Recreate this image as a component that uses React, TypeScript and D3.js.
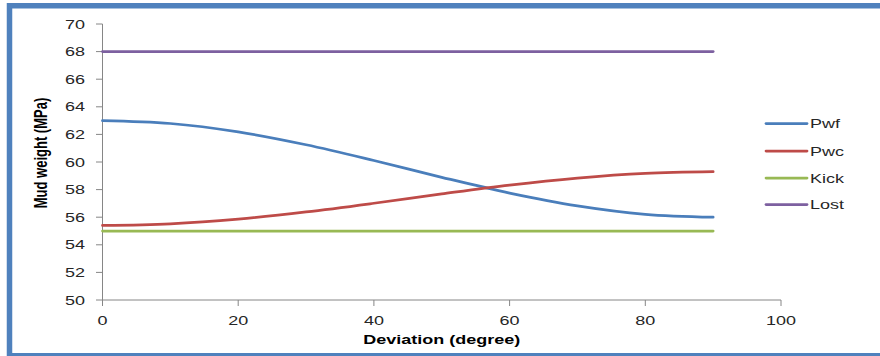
import React from "react";
import * as d3 from "d3";

const deviation = [0, 10, 20, 30, 40, 50, 60, 70, 80, 90];
const pwf = [63.0, 62.79, 62.18, 61.25, 60.11, 58.89, 57.75, 56.82, 56.21, 56.0];
const pwc = [55.4, 55.52, 55.86, 56.38, 57.01, 57.69, 58.33, 58.84, 59.18, 59.3];
const kick = [55, 55, 55, 55, 55, 55, 55, 55, 55, 55];
const lost = [68, 68, 68, 68, 68, 68, 68, 68, 68, 68];
const seriesNames = ["Pwf", "Pwc", "Kick", "Lost"];
const seriesColors = ["#4A7EBB", "#BE4B48", "#98B954", "#7D60A0"];
const yTicks = [50, 52, 54, 56, 58, 60, 62, 64, 66, 68, 70];
const xTicks = [0, 20, 40, 60, 80, 100];

const FONT = "'Liberation Sans', Arial, sans-serif";
const SX = 1.5;

export default function App() {
  const x = d3.scaleLinear().domain([0, 100]).range([102.5, 781]);
  const y = d3.scaleLinear().domain([50, 70]).range([300, 24]);
  const allSeries = [pwf, pwc, kick, lost];
  const line = d3
    .line<[number, number]>()
    .x((d) => x(d[0]))
    .y((d) => y(d[1]))
    .curve(d3.curveCatmullRom.alpha(0.5));
  const axisColor = "#868686";
  const legendYs = [123.5, 151, 178, 204.5];

  return (
    <svg
      width={880}
      height={356}
      style={{ position: "absolute", left: 0, top: 0, display: "block" }}
    >
      <rect x={0} y={0} width={880} height={356} fill="#ffffff" />
      <rect
        x={9.5}
        y={5.75}
        width={1000}
        height={350}
        fill="#ffffff"
        stroke="#4F81BD"
        strokeWidth={5.5}
      />
      {/* axes */}
      <line x1={x(0)} x2={x(0)} y1={y(70)} y2={y(50)} stroke={axisColor} strokeWidth={1} />
      <line x1={x(0)} x2={x(100)} y1={y(50)} y2={y(50)} stroke={axisColor} strokeWidth={1} />
      {yTicks.map((t) => (
        <g key={"yt" + t}>
          <line x1={x(0) - 6.5} x2={x(0)} y1={y(t)} y2={y(t)} stroke={axisColor} strokeWidth={1} />
          <text
            transform={`translate(85,${y(t) + 4.5}) scale(${SX},1)`}
            textAnchor="end"
            fontFamily={FONT}
            fontSize={12}
            fill="#262626"
          >
            {t}
          </text>
        </g>
      ))}
      {xTicks.map((t) => (
        <g key={"xt" + t}>
          <line x1={x(t)} x2={x(t)} y1={y(50)} y2={y(50) + 6} stroke={axisColor} strokeWidth={1} />
          <text
            transform={`translate(${x(t)},324.5) scale(${SX},1)`}
            textAnchor="middle"
            fontFamily={FONT}
            fontSize={12}
            fill="#262626"
          >
            {t}
          </text>
        </g>
      ))}
      {/* axis titles */}
      <text
        transform={`translate(${(x(0) + x(100)) / 2},344) scale(${SX},1)`}
        textAnchor="middle"
        fontFamily={FONT}
        fontSize={12}
        fontWeight="bold"
        fill="#000"
      >
        Deviation (degree)
      </text>
      <text
        transform={`translate(47,153) rotate(-90) scale(1,1.45)`}
        textAnchor="middle"
        fontFamily={FONT}
        fontSize={13}
        fontWeight="bold"
        fill="#000"
      >
        Mud weight (MPa)
      </text>
      {/* series */}
      {allSeries.map((vals, i) => (
        <path
          key={"s" + i}
          d={line(deviation.map((d, j) => [d, vals[j]] as [number, number])) || ""}
          fill="none"
          stroke={seriesColors[i]}
          strokeWidth={2.75}
          strokeLinecap="round"
        />
      ))}
      {/* legend */}
      {seriesNames.map((n, i) => (
        <g key={"lg" + i}>
          <line
            x1={766}
            x2={807}
            y1={legendYs[i]}
            y2={legendYs[i]}
            stroke={seriesColors[i]}
            strokeWidth={2.75}
            strokeLinecap="round"
          />
          <text
            transform={`translate(810,${legendYs[i] + 4.5}) scale(${SX},1)`}
            fontFamily={FONT}
            fontSize={12}
            fill="#262626"
          >
            {n}
          </text>
        </g>
      ))}
    </svg>
  );
}
